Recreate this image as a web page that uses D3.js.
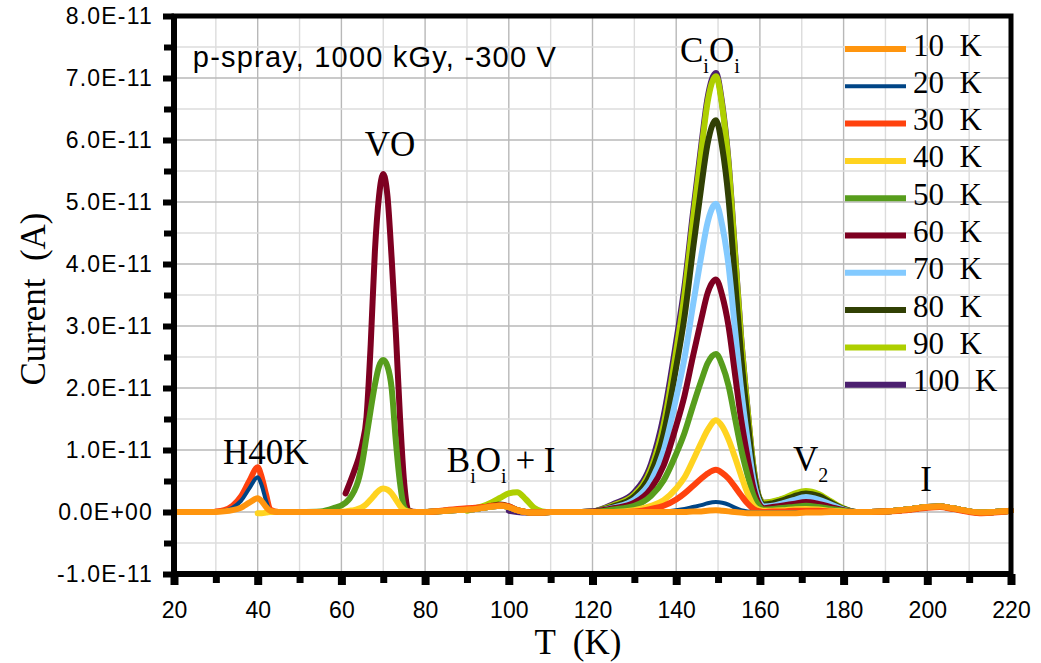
<!DOCTYPE html>
<html>
<head>
<meta charset="utf-8">
<script src="https://cdn.jsdelivr.net/npm/d3@7"></script>
<style>
body { margin: 0; background: #fff; }
svg text { white-space: pre; }
</style>
</head>
<body>
<svg id="chart"></svg>
<script>
var width = 1041;
var height = 663;
var N = null;

// temperature grid (K) shared by all curves
var temps = [20, 25, 30, 32, 34, 36, 38, 40, 41, 42, 43, 45,
  50, 55, 58, 61, 62, 63, 64, 65, 66, 67, 68, 69, 70, 71, 72, 73, 74, 75, 76, 78, 80,
  85, 90, 92, 94, 96, 98, 100, 102, 104, 106, 108, 110, 115,
  120, 125, 130, 134, 137, 140, 142, 144, 146, 147.5, 149.5, 151, 152.5, 154, 155.5, 157, 158.5, 160,
  161, 163, 166, 168, 171, 174, 177, 180, 183,
  190, 195, 200, 203, 206, 210, 213, 216, 220];

// current in units of 1E-11 A
var s10 = [0, 0, 0, .01, .03, .07, .15, .22, .17, .08, .02, 0,
  0, 0, 0, 0, 0, 0, 0, 0, 0, 0, 0, 0, 0, 0, 0, 0, 0, 0, 0, 0, 0,
  .02, .04, .05, .07, .09, .1, .08, .03, 0, -.01, -.01, 0, 0,
  0, 0, 0, 0, 0, 0, 0, .01, .01, .02, .03, .02, .01, 0, -.01, -.02, -.02, -.02,
  -.02, -.02, -.02, -.02, -.01, -.01, 0, 0, 0,
  .01, .04, .08, .09, .06, .01, -.01, 0, .02];
var s20 = [0, 0, .01, .02, .07, .18, .38, .56, .42, .18, .02, 0,
  0, 0, 0, 0, 0, 0, 0, 0, 0, 0, 0, 0, 0, 0, 0, 0, 0, 0, 0, 0, 0,
  .02, .04, .05, .07, .09, .1, .08, .03, 0, -.01, -.01, 0, 0,
  0, 0, 0, 0, .01, .03, .05, .08, .11, .14, .16, .15, .12, .07, .03, .01, 0, 0,
  0, 0, 0, 0, 0, 0, 0, 0, 0,
  .01, .04, .08, .09, .06, .01, -.01, 0, .02];
var s30 = [N, N, .01, .03, .1, .25, .5, .72, .55, .28, .04, 0,
  0, 0, 0, 0, 0, 0, 0, 0, 0, 0, 0, 0, 0, 0, 0, 0, 0, 0, 0, 0, 0,
  .03, .06, .07, .08, .1, .11, .09, .03, 0, -.01, -.01, 0, 0,
  0, 0, .01, .05, .1, .2, .3, .42, .54, .62, .68, .63, .54, .41, .27, .14, .05, .01,
  0, .01, .01, .02, .02, .02, .01, 0, 0,
  .01, .03, .07, .08, .05, 0, -.02, -.01, .02];
var s40 = [N, N, N, N, N, N, N, -.02, -.02, -.01, 0, 0,
  0, 0, 0, .01, .02, .03, .05, .08, .13, .2, .28, .35, .38, .36, .3, .2, .1, .03, .01, 0, 0,
  .02, .04, .05, .07, .09, .1, .08, .03, 0, -.01, -.01, 0, 0,
  0, 0, .03, .1, .19, .38, .56, .83, 1.12, 1.32, 1.48, 1.38, 1.17, .89, .59, .31, .1, .03,
  .02, .02, .03, .04, .05, .04, .02, .01, 0,
  .01, .04, .08, .09, .06, .01, -.01, 0, .02];
var s50 = [N, N, N, N, N, N, N, N, N, N, N, N,
  0, .01, .06, .15, .22, .33, .5, .8, 1.22, 1.65, 2.05, 2.35, 2.45, 2.35, 2.0, 1.15, .47, .08, .01, 0, 0,
  .02, .04, .05, .07, .09, .1, .08, .03, 0, -.01, -.01, 0, 0,
  0, .04, .1, .26, .51, .94, 1.28, 1.71, 2.12, 2.4, 2.55, 2.37, 2.04, 1.53, 1.02, .61, .26, .08,
  .04, .05, .07, .08, .1, .08, .05, .02, 0,
  .01, .04, .08, .09, .06, .01, -.01, 0, .02];
var s60 = [N, N, N, N, N, N, N, N, N, N, N, N,
  N, N, N, .3, .47, .65, .84, 1.1, 1.53, 2.7, 4.2, 5.1, 5.45, 5.1, 4.1, 2.9, 1.53, .47, .03, 0, 0,
  .02, .04, .05, .07, .09, .1, .08, .03, 0, -.01, -.01, 0, 0,
  .01, .06, .15, .38, .75, 1.39, 1.88, 2.51, 3.11, 3.53, 3.75, 3.49, 3.0, 2.25, 1.5, .9, .38, .11,
  .06, .08, .11, .13, .16, .13, .08, .03, 0,
  .01, .04, .08, .09, .06, .01, -.01, 0, .02];
var s70 = [N, N, N, N, N, N, N, N, N, N, N, N,
  N, N, N, N, N, N, N, N, N, N, N, N, N, 0, 0, 0, 0, 0, 0, 0, 0,
  .02, .04, .05, .07, .09, .1, .08, .03, 0, -.01, -.01, 0, 0,
  .01, .07, .2, .5, .99, 1.84, 2.49, 3.33, 4.13, 4.67, 4.97, 4.62, 3.98, 2.98, 1.99, 1.19, .5, .15,
  .09, .1, .15, .19, .24, .2, .12, .04, 0,
  .01, .04, .08, .09, .06, .01, -.01, 0, .02];
var s80 = [N, N, N, N, N, N, N, N, N, N, N, N,
  N, N, N, N, N, N, N, N, N, N, N, N, N, N, N, N, N, N, N, N, 0,
  .02, .04, .05, .07, .1, .12, .09, .03, 0, -.01, -.01, 0, 0,
  .01, .09, .25, .63, 1.26, 2.34, 3.16, 4.23, 5.25, 5.94, 6.32, 5.88, 5.06, 3.79, 2.53, 1.52, .63, .19,
  .12, .14, .2, .25, .3, .26, .15, .05, 0,
  .01, .04, .08, .09, .06, .01, -.01, 0, .02];
var s90 = [N, N, N, N, N, N, N, N, N, N, N, N,
  N, N, N, N, N, N, N, N, N, N, N, N, N, N, N, N, N, N, N, N, N,
  N, .02, .06, .1, .16, .23, .3, .32, .21, .07, .01, 0, 0,
  .01, .11, .28, .7, 1.41, 2.6, 3.52, 4.71, 5.83, 6.61, 7.03, 6.54, 5.62, 4.22, 2.81, 1.69, .7, .21,
  .15, .17, .23, .29, .34, .29, .17, .06, 0,
  .01, .04, .08, .09, .06, .01, -.01, 0, .02];
var s100 = [N, N, N, N, N, N, N, N, N, N, N, N,
  N, N, N, N, N, N, N, N, N, N, N, N, N, N, N, N, N, N, N, N, N,
  N, N, N, N, N, N, .02, 0, -.01, 0, 0, 0, 0,
  .01, .13, .32, .78, 1.55, 2.75, 3.65, 4.82, 5.92, 6.68, 7.08, 6.58, 5.66, 4.25, 2.83, 1.7, .71, .21,
  .15, .16, .22, .27, .32, .27, .16, .05, 0,
  .01, .04, .08, .09, .06, .01, -.01, 0, .02];

var seriesValues = [s10, s20, s30, s40, s50, s60, s70, s80, s90, s100];
var seriesNames = ["10  K", "20  K", "30  K", "40  K", "50  K", "60  K", "70  K", "80  K", "90  K", "100  K"];
var seriesColors = ["#ff950e", "#004586", "#ff420e", "#ffd320", "#579d1c", "#7e0021",
  "#83caff", "#314004", "#aecf00", "#4b1f6f"];
var seriesWidths = [6, 4, 6, 6, 6, 6, 6, 6, 6, 6];

var xTicks = [20, 40, 60, 80, 100, 120, 140, 160, 180, 200, 220];
var xMinor = [30, 50, 70, 90, 110, 130, 150, 170, 190, 210];
var yTicks = [-1, 0, 1, 2, 3, 4, 5, 6, 7, 8];
var yMinor = [-0.5, 0.5, 1.5, 2.5, 3.5, 4.5, 5.5, 6.5, 7.5];
var yTickLabels = ["-1.0E-11", "0.0E+00", "1.0E-11", "2.0E-11", "3.0E-11", "4.0E-11",
  "5.0E-11", "6.0E-11", "7.0E-11", "8.0E-11"];

seriesValues.forEach(function(s, i){
  if (s.length !== temps.length) throw new Error("series " + seriesNames[i] + " has " + s.length);
});

var plotLeft = 174, plotRight = 1011, plotTop = 16, plotBottom = 574;

var x = d3.scaleLinear().domain([20, 220]).range([plotLeft, plotRight]);
var y = d3.scaleLinear().domain([-1, 8]).range([plotBottom, plotTop]);

var svg = d3.select('#chart')
  .attr('width', width)
  .attr('height', height);

svg.append('rect').attr('width', width).attr('height', height).attr('fill', '#fff');

// grid
var grid = svg.append('g');
xMinor.concat(xTicks.slice(1, -1)).forEach(function(t){
  grid.append('line')
    .attr('x1', x(t)).attr('x2', x(t))
    .attr('y1', plotTop).attr('y2', plotBottom)
    .attr('stroke', xTicks.indexOf(t) >= 0 ? '#b8b8b8' : '#dcdcdc')
    .attr('stroke-width', 1.4);
});
yMinor.concat(yTicks.slice(1, -1)).forEach(function(v){
  grid.append('line')
    .attr('x1', plotLeft).attr('x2', plotRight)
    .attr('y1', y(v)).attr('y2', y(v))
    .attr('stroke', yTicks.indexOf(v) >= 0 ? '#b8b8b8' : '#dcdcdc')
    .attr('stroke-width', 1.4);
});

// curves, last series underneath
var line = d3.line()
  .defined(function(d){ return d[1] !== null; })
  .x(function(d){ return x(d[0]); })
  .y(function(d){ return y(d[1]); })
  .curve(d3.curveMonotoneX);

for (var i = seriesValues.length - 1; i >= 0; i--) {
  var pts = temps.map(function(t, j){ return [t, seriesValues[i][j]]; });
  svg.append('path')
    .attr('d', line(pts))
    .attr('fill', 'none')
    .attr('stroke', seriesColors[i])
    .attr('stroke-width', seriesWidths[i])
    .attr('stroke-linecap', 'round')
    .attr('stroke-linejoin', 'round');
}

// frame
svg.append('rect')
  .attr('x', plotLeft).attr('y', plotTop)
  .attr('width', plotRight - plotLeft).attr('height', plotBottom - plotTop)
  .attr('fill', 'none').attr('stroke', '#000').attr('stroke-width', 5);
svg.append('line').attr('x1', plotLeft).attr('x2', plotLeft).attr('y1', plotTop - 2).attr('y2', plotBottom + 3)
  .attr('stroke', '#000').attr('stroke-width', 6);
svg.append('line').attr('x1', plotLeft - 3).attr('x2', plotRight + 2).attr('y1', plotBottom).attr('y2', plotBottom)
  .attr('stroke', '#000').attr('stroke-width', 6);

// axes
var xAxis = svg.append('g')
  .attr('transform', 'translate(0,' + plotBottom + ')')
  .call(d3.axisBottom(x).tickValues(xTicks).tickSize(11).tickPadding(17).tickFormat(d3.format('d')));
var xAxisMinor = svg.append('g')
  .attr('transform', 'translate(0,' + plotBottom + ')')
  .call(d3.axisBottom(x).tickValues(xMinor).tickSize(9).tickFormat(''));
var yAxis = svg.append('g')
  .attr('transform', 'translate(' + plotLeft + ',0)')
  .call(d3.axisLeft(y).tickValues(yTicks).tickSize(11).tickPadding(10)
    .tickFormat(function(d, i){ return yTickLabels[i]; }));
var yAxisMinor = svg.append('g')
  .attr('transform', 'translate(' + plotLeft + ',0)')
  .call(d3.axisLeft(y).tickValues(yMinor).tickSize(10).tickFormat(''));

[xAxis, xAxisMinor, yAxis, yAxisMinor].forEach(function(g){
  g.select('.domain').remove();
  g.selectAll('.tick line').attr('stroke', '#000').attr('stroke-width', 6);
  g.selectAll('text')
    .attr('fill', '#000')
    .style('font-family', '"Liberation Sans", Arial, sans-serif')
    .style('font-size', '23px');
});
xAxisMinor.selectAll('.tick line').attr('stroke-width', 7);
xAxis.selectAll('.tick line').attr('stroke-width', 8);
yAxis.selectAll('text').style('letter-spacing', '1.2px');

// axis titles
svg.append('text')
  .attr('x', 578).attr('y', 654)
  .attr('text-anchor', 'middle')
  .style('font-family', '"Liberation Serif", "Times New Roman", serif')
  .style('font-size', '35px')
  .text('T  (K)');
svg.append('text')
  .attr('transform', 'translate(45,299) rotate(-90)')
  .attr('text-anchor', 'middle')
  .style('font-family', '"Liberation Serif", "Times New Roman", serif')
  .style('font-size', '35px')
  .text('Current  (A)');

// annotations
svg.append('text')
  .attr('x', x(24.5)).attr('y', y(7.18))
  .style('font-family', '"Liberation Sans", Arial, sans-serif')
  .style('font-size', '29px')
  .style('letter-spacing', '1.2px')
  .text('p-spray, 1000 kGy, -300 V');

function label(t, v, parts) {
  var txt = svg.append('text')
    .attr('x', x(t)).attr('y', y(v))
    .style('font-family', '"Liberation Serif", "Times New Roman", serif')
    .style('font-size', '35px');
  var shift = 0;
  parts.forEach(function(p){
    var sub = p[1];
    var dy = (sub ? 11 : 0) - shift;
    shift = sub ? 11 : 0;
    txt.append('tspan')
      .attr('dy', dy)
      .style('font-size', sub ? '20px' : '35px')
      .text(p[0]);
  });
}
label(31.7, 0.77, [['H40K', false]]);
label(65.6, 5.74, [['VO', false]]);
label(85.2, 0.65, [['B', false], ['i', true], ['O', false], ['i', true], [' + I', false]]);
label(140.9, 7.26, [['C', false], ['i', true], ['O', false], ['i', true]]);
label(167.9, 0.66, [['V', false], ['2', true]]);
label(198.3, 0.34, [['I', false]]);

// legend
var legend = svg.append('g');
seriesNames.forEach(function(name, i){
  var ly = 49 + i * 37.3;
  legend.append('line')
    .attr('x1', 845).attr('x2', 906)
    .attr('y1', ly).attr('y2', ly)
    .attr('stroke', seriesColors[i])
    .attr('stroke-width', seriesWidths[i]);
  legend.append('text')
    .attr('x', 913).attr('y', ly + 6.5)
    .style('font-family', '"Liberation Serif", "Times New Roman", serif')
    .style('font-size', '31px')
    .text(name);
});
</script>
</body>
</html>
